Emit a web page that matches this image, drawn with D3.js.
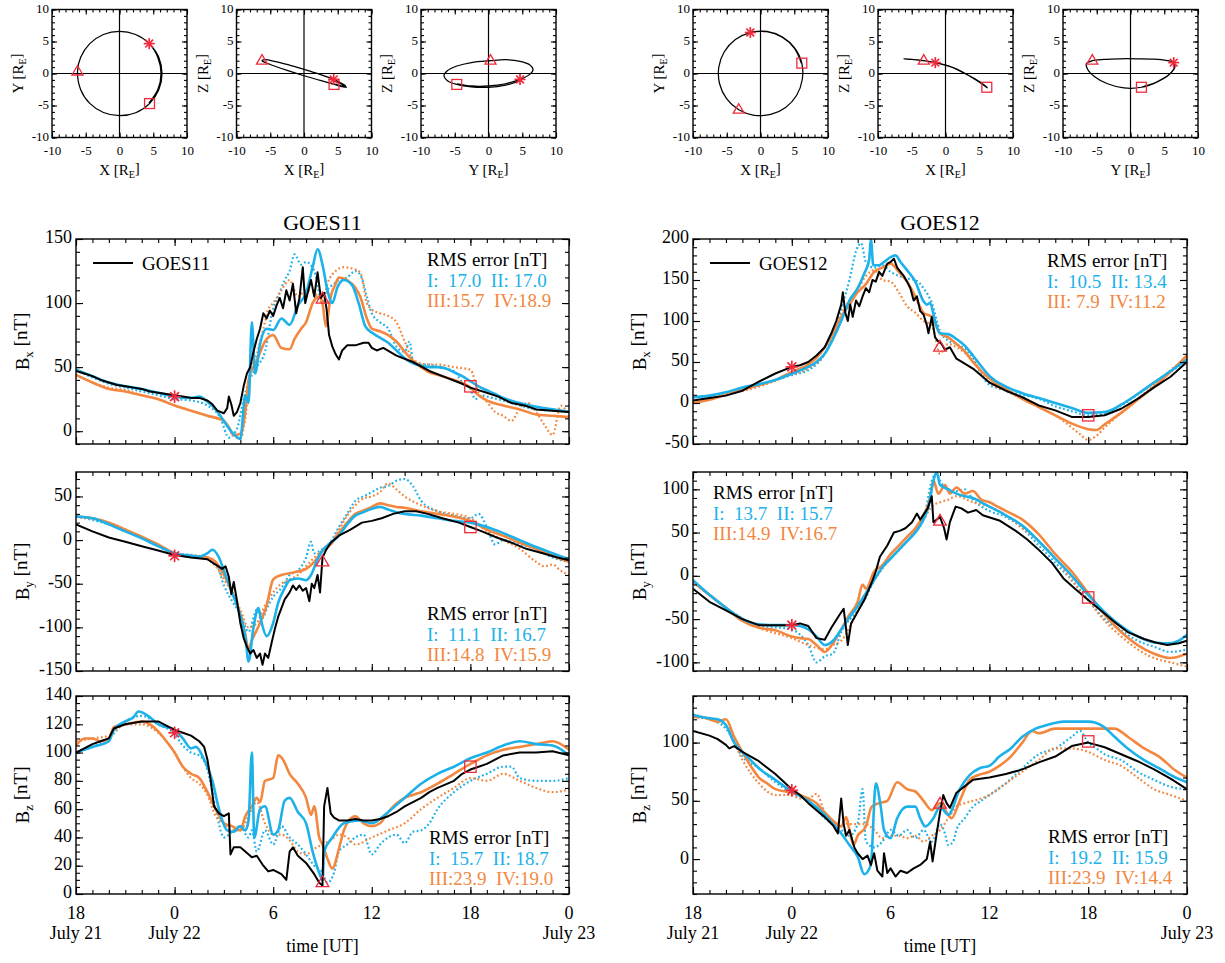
<!DOCTYPE html>
<html>
<head>
<meta charset="utf-8">
<script src="https://cdn.jsdelivr.net/npm/d3@7"></script>
<style>
  html, body { margin: 0; padding: 0; background: #fff; }
  svg { display: block; }
</style>
</head>
<body>
<svg id="chart" width="1225" height="963"></svg>
<script>
// ---------------------------------------------------------------
// Time axis: hours since 18 UT on July 21 (0 .. 30 h)
// ---------------------------------------------------------------
const hourTicks = [0, 6, 12, 18, 24, 30];
const hourLabels = ["18", "0", "6", "12", "18", "0"];
const dayLabels = ["July 21", "July 22", "", "", "", "July 23"];
const markerHours = [6, 15, 24];
const markerKinds = ["star", "triangle", "square"];

// ---------------------------------------------------------------
// Spacecraft positions [R_E], sampled every 1.5 h
// ---------------------------------------------------------------
const orbitHours = [0, 1.5, 3, 4.5, 6, 7.5, 9, 10.5, 12, 13.5, 15, 16.5, 18, 19.5, 21, 22.5, 24, 25.5, 27, 28.5, 30];
const g11OrbitX = [4.35, 5.68, 6.15, 5.68, 4.40, 2.38, 0.0, -2.38, -4.40, -5.75, -6.22, -5.75, -4.40, -2.38, 0.0, 2.40, 4.45, 5.82, 6.30, 5.82, 4.45];
const g11OrbitY = [-4.63, -2.51, 0.0, 2.51, 4.67, 6.10, 6.60, 6.10, 4.67, 2.53, 0.30, -2.53, -4.67, -6.10, -6.60, -6.13, -4.70, -2.55, 0.0, 2.55, 4.70];
const g11OrbitZ = [-1.60, -1.95, -1.95, -1.60, -0.92, -0.14, 0.65, 1.38, 1.91, 2.15, 2.00, 1.71, 1.17, 0.44, -0.35, -1.08, -1.71, -2.10, -2.15, -1.81, -1.17];
const g12OrbitX = [6.06, 5.03, 3.22, 0.93, -1.51, -3.72, -5.36, -6.18, -6.06, -5.03, -3.22, -0.93, 1.51, 3.72, 5.36, 6.18, 6.12, 5.08, 3.26, 0.95, -1.50];
const g12OrbitY = [1.60, 3.93, 5.66, 6.53, 6.40, 5.31, 3.40, 0.98, -1.60, -3.93, -5.66, -6.53, -6.40, -5.31, -3.40, -0.98, 1.62, 3.97, 5.70, 6.58, 6.45];
const g12OrbitZ = [-2.15, -1.30, -0.20, 1.00, 1.70, 2.05, 2.25, 2.30, 2.30, 2.20, 2.00, 1.55, 0.75, -0.50, -1.60, -2.25, -2.15, -1.30, -0.20, 1.00, 1.70];

// ---------------------------------------------------------------
// GOES11 magnetic field [nT]: observation and models I..IV, [hour, value]
// ---------------------------------------------------------------
const g11BxObs = [[0,47],[0.5,45],[1,43],[1.5,40],[2,38],[2.5,36],[3,35],[3.5,34],[4,33],[4.5,31],[5,30],[5.5,29],[6,28],[6.5,27],[7,26],[7.5,26],[8,24],[8.3,21],[8.6,16],[9,14],[9.2,18],[9.3,27],[9.45,21],[9.6,12],[9.8,15],[10,22],[10.2,35],[10.4,45],[10.6,50],[10.8,62],[11,72],[11.2,80],[11.4,92],[11.6,88],[11.8,94],[12,90],[12.2,98],[12.4,104],[12.6,96],[12.8,110],[13,102],[13.2,115],[13.4,92],[13.6,104],[13.8,128],[13.95,100],[14.1,108],[14.3,118],[14.5,105],[14.7,124],[14.9,104],[15.1,108],[15.25,95],[15.4,75],[15.6,66],[15.8,60],[16,56],[16.2,63],[16.5,67],[17,67],[17.5,69],[17.8,69],[18,65],[18.3,63],[18.7,65],[19.5,59],[20.5,54],[21.5,47],[22.5,42],[23.5,37],[24,34],[25,30],[25.7,27],[26.5,22],[27.3,20],[28,17],[29,16],[30,15]];
const g11BxI = [[0,48],[1,43],[2,38],[3,35],[4,33],[5,30],[6,27],[7,26],[7.5,27],[8,23],[8.5,17],[9,8],[9.5,-1],[10,-6],[10.3,28],[10.5,22],[10.7,85],[10.9,45],[11.2,68],[11.6,80],[12,79],[12.5,88],[13,83],[13.5,98],[14,108],[14.4,128],[14.7,142],[15,130],[15.3,110],[15.6,100],[15.9,112],[16.3,118],[16.8,114],[17.2,100],[17.6,82],[18,77],[18.5,73],[19,69],[19.5,63],[20,57],[20.5,53],[21,51],[21.5,50],[22,50],[22.5,49],[23,46],[23.5,43],[24,39],[24.5,35],[25,32],[25.5,29],[26,26],[27,22],[28,19],[29,17],[30,15]];
const g11BxII = [[0,48],[1,42],[2,37],[3,34],[4,31],[5,28],[6,25],[7,24],[8,20],[8.8,10],[9.3,-5],[9.8,2],[10.2,25],[10.5,38],[11,50],[11.5,62],[12,96],[12.3,105],[12.7,118],[13,125],[13.3,138],[13.7,130],[14,132],[14.5,125],[15,100],[15.3,110],[15.7,115],[16,118],[16.5,120],[17,125],[17.3,122],[17.7,105],[18,92],[18.5,85],[19,80],[19.5,66],[20,62],[20.3,70],[20.5,55],[21,52],[21.5,52],[22,50],[23,47],[23.5,38],[24,33],[24.3,25],[24.7,28],[25,27],[26,24],[27,20],[28,17],[29,16],[30,15]];
const g11BxIII = [[0,44],[1,38],[2,33],[3,31],[4,28],[5,25],[6,20],[7,16],[8,12],[9,8],[9.3,3],[9.6,-3],[10,-2],[10.3,15],[10.5,40],[11,55],[11.5,70],[12,75],[12.5,65],[13,64],[13.3,72],[13.7,80],[14,85],[14.4,100],[14.8,105],[15,100],[15.2,82],[15.5,105],[15.8,115],[16,120],[16.5,118],[17,112],[17.3,105],[17.7,88],[18,80],[18.5,78],[19,75],[19.5,70],[20,62],[20.5,55],[21,50],[21.5,46],[22,44],[23,40],[24,34],[24.5,28],[25,24],[26,20],[27,17],[28,13],[29,12],[30,11]];
const g11BxIV = [[0,44],[1,38],[2,34],[3,32],[4,28],[5,25],[6,20],[7,16],[8,12],[9,8],[9.5,-2],[10,-6],[10.3,10],[10.6,45],[11,60],[11.4,80],[11.7,95],[12,100],[12.5,110],[13,118],[13.5,105],[14,110],[14.5,108],[15,100],[15.3,115],[15.8,125],[16.3,128],[16.8,127],[17.3,124],[17.7,100],[18,95],[18.5,92],[19,90],[19.5,85],[20,70],[20.5,56],[21,53],[21.5,52],[22,52],[23,50],[24,48],[24.5,30],[25,23],[25.5,15],[26,12],[26.5,8],[27,18],[27.5,22],[28,15],[28.5,5],[29,-3],[29.5,20],[30,12]];

const g11ByObs = [[0,18],[1,10],[2,3],[3,-2],[4,-7],[5,-12],[6,-17],[7,-20],[8,-22],[8.4,-27],[8.9,-33],[9.1,-30],[9.3,-42],[9.45,-62],[9.6,-48],[9.8,-70],[10,-95],[10.2,-112],[10.4,-122],[10.6,-130],[10.8,-126],[11,-135],[11.2,-130],[11.35,-143],[11.5,-130],[11.7,-135],[11.9,-118],[12.1,-102],[12.3,-88],[12.5,-78],[12.7,-68],[13,-60],[13.2,-52],[13.4,-57],[13.6,-52],[13.8,-58],[14,-55],[14.2,-70],[14.35,-50],[14.5,-55],[14.7,-40],[14.85,-60],[15,-20],[15.2,-12],[15.5,-3],[16,5],[16.7,12],[17.4,20],[18,22],[18.6,25],[19.3,30],[20,33],[20.7,33],[21.4,30],[22.3,25],[23.3,20],[24,15],[24.7,10],[25.6,3],[26.5,-3],[27.4,-10],[28.4,-15],[29.3,-20],[30,-23]];
const g11ByI = [[0,27],[1,25],[2,18],[3,10],[4,2],[5,-7],[6,-15],[7,-18],[7.5,-19],[8,-15],[8.3,-11],[8.7,-20],[9,-35],[9.5,-60],[10,-87],[10.3,-110],[10.5,-139],[10.8,-100],[11.1,-78],[11.3,-95],[11.6,-110],[12,-95],[12.3,-72],[12.7,-55],[13,-46],[13.5,-44],[14,-46],[14.3,-40],[14.7,-22],[15,-12],[15.5,-3],[16,5],[16.5,18],[17,28],[17.5,32],[18,36],[18.5,38],[19,35],[19.5,32],[20,30],[21,28],[22,25],[23,22],[24,20],[25,15],[26,8],[27,0],[28,-8],[29,-15],[30,-22]];
const g11ByII = [[0,27],[2,18],[4,3],[6,-15],[7,-17],[8,-20],[8.5,-25],[9,-52],[9.5,-70],[10,-85],[10.5,-105],[11,-80],[11.3,-90],[11.7,-75],[12,-65],[12.5,-55],[13,-40],[13.5,-35],[14,-20],[14.3,-2],[14.5,-15],[15,-10],[15.5,-2],[16,15],[16.5,30],[17,45],[17.5,50],[18,55],[18.5,60],[19,62],[19.5,68],[20,70],[20.5,62],[21,45],[22,33],[23,28],[24,25],[24.5,30],[25,15],[25.5,-5],[26,0],[27,-5],[28,-10],[29,-20],[30,-25]];
const g11ByIII = [[0,27],[1,25],[2,20],[3,12],[4,4],[5,-5],[6,-15],[7,-18],[8,-20],[8.5,-25],[9,-40],[9.5,-60],[10,-85],[10.3,-108],[10.5,-125],[10.7,-115],[11.2,-95],[11.6,-75],[12,-45],[12.5,-40],[13,-38],[13.5,-36],[14,-33],[14.5,-25],[15,-12],[15.5,-5],[16,8],[16.5,20],[17,30],[17.5,34],[18,38],[18.5,42],[19,40],[19.5,38],[20,37],[21,33],[22,30],[23,27],[24,22],[25,12],[26,5],[27,-3],[28,-10],[29,-18],[30,-25]];
const g11ByIV = [[0,27],[2,20],[4,3],[6,-15],[8,-22],[8.5,-30],[9,-45],[9.5,-60],[10,-80],[10.5,-100],[11,-95],[11.5,-75],[12,-60],[12.5,-50],[13,-45],[13.5,-40],[14,-30],[14.5,-20],[15,-12],[15.5,-5],[16,12],[16.5,28],[17,40],[17.5,48],[18,50],[18.5,55],[19,65],[19.5,58],[20,50],[21,40],[22,33],[23,30],[24,25],[25,10],[26,0],[27,-10],[28,-25],[28.5,-30],[29,-28],[29.5,-35],[30,-40]];

const g11BzObs = [[0,100],[0.5,103],[1,106],[1.5,108],[2,110],[2.3,117],[3,120],[4,122],[5,122],[6,116],[6.5,114],[7,112],[7.5,108],[7.8,104],[8,95],[8.2,80],[8.4,62],[8.7,57],[9,55],[9.3,57],[9.4,28],[9.6,33],[10,33],[10.3,30],[10.7,26],[11,27],[11.4,20],[11.7,16],[12,17],[12.5,14],[12.8,10],[13,30],[13.2,33],[13.5,27],[14,22],[14.5,14],[14.8,8],[15,6],[15.1,62],[15.3,75],[15.5,57],[15.7,54],[16,52],[16.5,52],[17,53],[17.5,52],[18,52],[18.5,53],[19,55],[19.5,58],[20,62],[20.5,65],[21,68],[21.5,72],[22,75],[23,80],[23.5,85],[24,88],[24.5,90],[25,92],[26,98],[27,100],[28,100],[29,101],[30,98]];
const g11BzI = [[0,100],[1,104],[2,108],[2.3,116],[3,122],[3.5,125],[3.8,129],[4.5,125],[5,120],[6,116],[6.5,110],[7,103],[7.3,104],[7.8,95],[8.3,80],[8.7,60],[9.2,45],[9.6,44],[10,48],[10.3,45],[10.5,52],[10.7,100],[10.85,40],[11.2,60],[11.5,62],[12,42],[12.3,45],[12.7,66],[13,68],[13.5,58],[14,50],[14.4,30],[14.8,15],[15,10],[15.1,30],[15.6,40],[16.3,50],[17.2,52],[18,50],[19,58],[20,68],[21,78],[22,85],[23,90],[24,96],[25,100],[26,105],[27,108],[28,106],[29,105],[30,98]];
const g11BzII = [[0,100],[1,104],[2,110],[3,122],[4,126],[5,120],[6,113],[6.5,105],[7,100],[7.5,98],[8,88],[8.5,60],[9,40],[9.5,44],[10,48],[10.5,40],[10.7,45],[11,30],[11.5,45],[12,35],[12.5,48],[13,40],[13.5,35],[14,28],[14.5,20],[15,15],[15.3,8],[15.7,15],[16,30],[16.5,35],[17,40],[17.5,42],[18,28],[18.5,35],[19,40],[19.5,42],[20,36],[20.5,44],[21,45],[21.5,50],[22,60],[23,72],[24,80],[25,85],[26,90],[26.5,90],[27,82],[28,80],[29,80],[30,82]];
const g11BzIII = [[0,105],[0.5,110],[1,110],[1.5,108],[2,110],[2.3,118],[3,120],[4,122],[4.5,120],[5,115],[5.5,108],[6,100],[6.5,90],[7,85],[7.5,82],[8,72],[8.5,60],[9,50],[9.5,48],[10,45],[10.3,55],[10.7,62],[11,68],[11.2,65],[11.5,80],[12,82],[12.3,98],[12.6,95],[13,85],[13.5,78],[14,68],[14.3,56],[14.5,62],[14.8,40],[15,35],[15.3,25],[15.6,18],[16,32],[16.3,45],[16.6,52],[17,55],[17.5,50],[18,48],[18.5,50],[19,58],[20,68],[20.5,70],[21,72],[22,78],[23,85],[24,92],[24.5,95],[25,98],[26,102],[27,104],[28,106],[29,108],[30,102]];
const g11BzIV = [[0,108],[1,110],[2,112],[3,120],[4,120],[5,114],[6,100],[6.5,90],[7,82],[7.5,78],[8,70],[8.5,55],[9,50],[9.5,45],[10,45],[10.5,55],[11,65],[11.5,50],[12,42],[12.5,42],[13,38],[13.5,30],[14,28],[14.5,32],[15,35],[15.5,38],[16,42],[16.5,40],[17,35],[18,40],[19,45],[20,50],[21,60],[22,68],[23,75],[24,82],[25,80],[26,85],[27,80],[28,75],[29,72],[30,74]];

// ---------------------------------------------------------------
// GOES12 magnetic field [nT]
// ---------------------------------------------------------------
const g12BxObs = [[0,3],[1,6],[2,9],[3,15],[4,26],[5,36],[6,44],[6.5,46],[7,50],[7.5,58],[8,68],[8.4,85],[8.7,100],[9,120],[9.1,135],[9.25,110],[9.4,100],[9.55,120],[9.7,105],[9.9,125],[10.1,118],[10.3,130],[10.5,140],[10.7,135],[10.9,150],[11.1,148],[11.3,160],[11.5,155],[11.8,170],[12,172],[12.2,176],[12.4,165],[12.6,160],[12.8,155],[13,148],[13.2,140],[13.4,125],[13.6,130],[13.8,112],[14,108],[14.2,95],[14.3,85],[14.5,105],[14.7,80],[14.9,75],[15.1,72],[15.3,65],[15.6,68],[16,54],[17,42],[18,25],[19,15],[20,7],[21,-3],[22,-9],[23,-17],[24,-17],[25,-15],[26,-7],[27,5],[28,19],[29,32],[30,50]];
const g12BxI = [[0,7],[1,9],[2,13],[3,19],[4,23],[5,28],[6,36],[7,44],[7.5,50],[8,60],[8.5,78],[9,100],[9.5,125],[10,140],[10.4,158],[10.7,175],[10.8,200],[10.95,168],[11.3,168],[11.6,172],[12,178],[12.3,180],[12.6,172],[13,162],[13.5,148],[14,124],[14.2,120],[14.4,122],[14.7,100],[15,85],[15.5,84],[16,78],[16.5,70],[17,58],[17.5,45],[18,33],[19,20],[20,12],[21,6],[22,0],[23,-6],[24,-12],[25,-11],[26,-2],[27,11],[28,25],[29,39],[30,53]];
const g12BxII = [[0,7],[2,12],[4,22],[6,34],[7,40],[8,60],[8.5,82],[9,115],[9.5,150],[9.9,185],[10.2,195],[10.5,172],[11,165],[11.5,168],[12,160],[12.5,155],[13,152],[13.5,150],[14,140],[14.5,122],[15,88],[15.5,76],[16,72],[17,55],[17.5,35],[18,22],[18.5,18],[19,15],[20,10],[21,5],[22,-4],[23,-10],[24,-15],[25,-12],[26,-3],[27,10],[28,25],[29,38],[30,52]];
const g12BxIII = [[0,0],[1,4],[2,10],[3,16],[4,22],[5,28],[6,38],[7,47],[7.5,55],[8,68],[8.5,85],[9,105],[9.5,120],[10,135],[10.5,145],[11,160],[11.5,165],[12,170],[12.5,160],[13,148],[13.5,130],[14,110],[14.5,105],[15,85],[15.5,80],[16,72],[16.5,63],[17,50],[18,30],[19,17],[20,5],[21,-5],[22,-15],[23,-25],[24,-32],[24.5,-33],[25,-26],[26,-12],[27,4],[28,20],[29,38],[30,58]];
const g12BxIV = [[0,0],[2,10],[4,20],[6,35],[7,42],[8,60],[8.5,80],[9,108],[9.5,125],[10,138],[10.5,155],[11,162],[11.5,150],[12,148],[12.5,135],[13,118],[13.5,110],[14,100],[14.5,95],[15,60],[15.5,72],[16,68],[17,52],[18,25],[19,15],[20,5],[21,-5],[22,-15],[23,-30],[23.5,-38],[24,-45],[24.5,-40],[25,-30],[26,-12],[27,5],[28,22],[29,40],[30,56]];

const g12ByObs = [[0,-15],[1,-30],[2,-40],[3,-50],[4,-57],[5,-57],[6,-57],[6.5,-55],[7,-58],[7.5,-72],[8,-74],[8.4,-60],[8.9,-45],[9.15,-38],[9.3,-62],[9.4,-80],[9.6,-55],[9.9,-45],[10.4,-28],[10.85,-8],[11.1,5],[11.35,22],[11.8,35],[12.2,50],[12.55,52],[12.9,55],[13.3,62],[13.6,72],[13.8,65],[14.25,78],[14.5,92],[14.6,62],[15,68],[15.25,55],[15.4,42],[15.6,62],[15.95,80],[16.3,78],[16.7,73],[17.2,76],[17.6,70],[18.6,64],[19.6,52],[20.3,42],[21,30],[21.8,15],[22.5,-3],[23.2,-15],[24,-28],[24.9,-42],[25.7,-55],[26.4,-65],[27.4,-73],[28.1,-77],[28.8,-80],[29.5,-78],[30,-75]];
const g12ByI = [[0,-5],[1,-22],[2,-37],[3,-50],[4,-56],[5,-57],[6,-57],[6.5,-58],[7,-62],[7.5,-70],[8,-80],[8.5,-75],[9,-62],[9.5,-48],[10,-35],[10.5,-20],[11,-5],[11.5,10],[12,20],[12.5,30],[13,40],[13.5,50],[14,65],[14.3,80],[14.6,110],[14.8,120],[15,105],[15.5,100],[16,95],[16.5,92],[17,90],[17.5,85],[18,80],[19,70],[20,58],[21,40],[22,20],[23,0],[24,-22],[25,-42],[26,-58],[27,-70],[28,-77],[29,-78],[29.5,-75],[30,-68]];
const g12ByII = [[0,-5],[2,-37],[4,-57],[6,-62],[6.5,-68],[7,-80],[7.5,-100],[8,-93],[8.5,-90],[9,-65],[10,-40],[10.5,-25],[11,-5],[11.5,12],[12,20],[13,40],[13.5,52],[14,65],[14.5,110],[14.8,118],[15,110],[15.5,100],[16,98],[16.5,100],[17,88],[18,75],[19,68],[20,55],[21,35],[22,15],[23,-5],[24,-28],[25,-50],[26,-63],[27,-75],[28,-82],[29,-88],[30,-85]];
const g12ByIII = [[0,-7],[1,-22],[2,-37],[3,-52],[4,-60],[5,-63],[6,-70],[6.5,-72],[7,-73],[7.5,-80],[8,-88],[8.5,-78],[9,-62],[9.5,-45],[10,-30],[10.3,-10],[10.5,-15],[11,5],[11.5,12],[12,25],[12.5,35],[13,45],[13.5,55],[14,70],[14.4,90],[14.6,110],[14.9,95],[15.3,105],[15.6,95],[16,102],[16.5,95],[17,98],[17.5,88],[18,85],[18.5,80],[19,75],[20,65],[21,48],[22,25],[23,5],[24,-20],[25,-45],[26,-65],[27,-80],[28,-90],[29,-95],[30,-90]];
const g12ByIV = [[0,-7],[2,-37],[4,-60],[6,-72],[7,-80],[8,-85],[8.5,-80],[9,-75],[10,-40],[10.5,-20],[11,-5],[12,20],[13,40],[14,65],[14.5,80],[15,85],[15.5,88],[16,92],[17,85],[18,80],[19,70],[20,55],[21,40],[22,20],[23,-5],[24,-28],[25,-52],[26,-70],[27,-85],[28,-95],[29,-100],[30,-105]];

const g12BzObs = [[0,110],[1,106],[1.5,103],[2,98],[2.2,95],[2.5,97],[3,92],[4,84],[5,73],[6,60],[6.5,55],[7,48],[7.5,42],[8,36],[8.5,29],[8.8,22],[9,52],[9.15,30],[9.3,20],[9.5,25],[9.8,10],[10,5],[10.3,0],[10.6,3],[10.8,-5],[11,5],[11.2,-10],[11.5,-15],[11.6,5],[11.8,-12],[12,-8],[12.3,-15],[12.6,-10],[13,-12],[13.4,-8],[13.8,-5],[14.2,0],[14.4,15],[14.55,-2],[14.8,22],[15,40],[15.2,55],[15.4,48],[15.6,44],[16,57],[17,68],[18,70],[19,73],[20,77],[21,83],[22,88],[23,97],[24,100],[25,96],[26,90],[27,84],[28,77],[29,69],[30,60]];
const g12BzI = [[0,124],[0.5,122],[1,121],[1.5,120],[2,115],[2.5,100],[3,92],[3.5,85],[4,78],[5,68],[6,58],[7,50],[8,38],[8.5,30],[9,22],[9.5,12],[10,2],[10.4,-13],[10.8,-5],[11.1,65],[11.4,45],[11.6,25],[12,18],[12.4,35],[13,45],[13.5,45],[13.8,35],[14.1,28],[14.6,35],[15,45],[15.5,38],[16.2,60],[16.8,72],[17.4,78],[18,80],[18.6,88],[19.3,95],[20,105],[20.8,112],[21.5,115],[22.5,118],[24,118],[24.9,114],[25.6,105],[26.4,95],[27.4,85],[28.3,78],[29.3,70],[30,66]];
const g12BzII = [[0,124],[1,120],[2,112],[3,88],[4,78],[5,66],[6,57],[7,50],[8,35],[9,25],[9.5,20],[10,30],[10.3,60],[10.5,15],[11,10],[11.5,15],[12,25],[12.5,20],[13,25],[13.5,18],[14,25],[14.5,15],[15,30],[15.3,22],[15.5,12],[15.8,15],[16,25],[16.5,35],[17,45],[17.5,50],[18,55],[19,65],[20,78],[21,90],[22,95],[23,105],[23.5,110],[24,100],[24.5,95],[25,90],[26,85],[27,75],[28,68],[29,62],[30,60]];
const g12BzIII = [[0,122],[0.5,122],[1,120],[1.5,118],[2,120],[2.5,105],[3,92],[3.5,80],[4,70],[4.5,65],[5,60],[6,57],[6.5,55],[7,52],[7.5,48],[8,40],[8.5,33],[9,28],[9.3,36],[9.5,25],[9.75,12],[10,20],[10.5,28],[10.85,45],[11.3,48],[11.8,50],[12.4,66],[13,60],[13.5,58],[14,50],[14.5,42],[15,48],[15.5,38],[15.7,35],[16.2,50],[16.8,68],[17.3,72],[18,75],[18.6,80],[19.3,88],[20,100],[20.6,110],[21,108],[22,112],[23,112],[24,112],[24.9,112],[25.6,112],[26.4,105],[27.4,95],[28.3,88],[29.3,76],[30,70]];
const g12BzIV = [[0,122],[1,120],[2,115],[3,85],[4,65],[5,55],[6,55],[6.5,52],[7,52],[7.5,56],[8,40],[8.5,30],[9,32],[9.5,30],[10,30],[10.5,30],[11,25],[11.5,18],[12,20],[12.5,20],[13,18],[13.5,20],[14,15],[14.5,20],[15,25],[15.5,35],[16,45],[16.5,48],[17,50],[17.5,52],[18,55],[19,65],[20,75],[21,85],[22,95],[23,95],[24,92],[25,85],[26,80],[27,70],[28,60],[29,55],[30,50]];

// Observed values at the three marked times
const g11BxMarks = [27, 103, 35];
const g11ByMarks = [-18, -25, 15];
const g11BzMarks = [114, 8, 90];
const g12BxMarks = [44, 68, -15];
const g12ByMarks = [-57, 63, -25];
const g12BzMarks = [59, 47, 101];

// RMS errors of models I, II, III, IV [nT]
const g11RmsBx = [17.0, 17.0, 15.7, 18.9];
const g11RmsBy = [11.1, 16.7, 14.8, 15.9];
const g11RmsBz = [15.7, 18.7, 23.9, 19.0];
const g12RmsBx = [10.5, 13.4, 7.9, 11.2];
const g12RmsBy = [13.7, 15.7, 14.9, 16.7];
const g12RmsBz = [19.2, 15.9, 23.9, 14.4];

// ---------------------------------------------------------------
// Drawing
// ---------------------------------------------------------------
const FONT = '"Liberation Serif", "Times New Roman", serif';
const BLUE = "#1db1e9";
const ORANGE = "#f3873f";
const RED = "#ee2a3c";
const svg = d3.select("#chart").attr("font-family", FONT);

function styleAxis(sel, size) {
  sel.attr("font-family", FONT).attr("font-size", size);
  sel.select(".domain").remove();
  sel.selectAll(".tick line").attr("stroke", "#000").attr("stroke-width", 1.1);
  sel.selectAll(".tick text").attr("fill", "#000");
}

function drawFrame(g, x, y, w, h, c) {
  const add = (axis, tr) => {
    const a = g.append("g").call(axis);
    if (tr) a.attr("transform", tr);
    styleAxis(a, c.labelSize);
    return a;
  };
  const fmt = d => String(d);
  add(d3.axisBottom(x).tickValues(c.xMinor).tickSize(-c.minorLen).tickFormat(""), `translate(0,${h})`);
  add(d3.axisBottom(x).tickValues(c.xMajor).tickSize(-c.majorLen).tickPadding(c.xPad || c.pad)
      .tickFormat(c.xLabels ? fmt : ""), `translate(0,${h})`);
  add(d3.axisTop(x).tickValues(c.xMinor).tickSize(-c.minorLen).tickFormat(""));
  add(d3.axisTop(x).tickValues(c.xMajor).tickSize(-c.majorLen).tickFormat(""));
  add(d3.axisLeft(y).tickValues(c.yMinor).tickSize(-c.minorLen).tickFormat(""));
  const left = add(d3.axisLeft(y).tickValues(c.yMajor).tickSize(-c.majorLen).tickPadding(c.pad).tickFormat(fmt));
  if (c.yDy) left.selectAll(".tick text").attr("dy", c.yDy);
  add(d3.axisRight(y).tickValues(c.yMinor).tickSize(-c.minorLen).tickFormat(""), `translate(${w},0)`);
  add(d3.axisRight(y).tickValues(c.yMajor).tickSize(-c.majorLen).tickFormat(""), `translate(${w},0)`);
  g.append("rect").attr("width", w).attr("height", h)
    .attr("fill", "none").attr("stroke", "#000").attr("stroke-width", 1.4);
}

function drawMarker(g, kind, cx, cy, s) {
  const m = g.append("g").attr("fill", "none").attr("stroke", RED);
  if (kind === "star") {
    [0, 45, 90, 135].forEach(a => {
      const r = a * Math.PI / 180;
      m.append("line")
        .attr("x1", cx - s * Math.cos(r)).attr("y1", cy - s * Math.sin(r))
        .attr("x2", cx + s * Math.cos(r)).attr("y2", cy + s * Math.sin(r))
        .attr("stroke-width", 1.7);
    });
  } else if (kind === "triangle") {
    m.append("path")
      .attr("d", `M${cx},${cy - s * 1.1}L${cx - s},${cy + s * 0.62}L${cx + s},${cy + s * 0.62}Z`)
      .attr("stroke-width", 1.3);
  } else {
    m.append("rect").attr("x", cx - s * 0.9).attr("y", cy - s * 0.9)
      .attr("width", s * 1.8).attr("height", s * 1.8).attr("stroke-width", 1.3);
  }
}

function labelWithSub(sel, main, sub, rest, subSize) {
  sel.append("tspan").text(main);
  sel.append("tspan").attr("font-size", subSize).attr("dy", "0.32em").text(sub);
  sel.append("tspan").attr("dy", "-0.32em").text(rest);
}

let clipId = 0;

// ---------------- orbit panels ----------------
function drawOrbit(px, py, w, h, hs, vs, hName, vName) {
  const g = svg.append("g").attr("transform", `translate(${px},${py})`);
  const x = d3.scaleLinear().domain([-10, 10]).range([0, w]);
  const y = d3.scaleLinear().domain([-10, 10]).range([h, 0]);
  const pts = hs.map((v, i) => [v, vs[i]]);
  g.append("line").attr("x1", x(0)).attr("x2", x(0)).attr("y1", 0).attr("y2", h)
    .attr("stroke", "#000").attr("stroke-width", 1.2);
  g.append("line").attr("x1", 0).attr("x2", w).attr("y1", y(0)).attr("y2", y(0))
    .attr("stroke", "#000").attr("stroke-width", 1.2);
  g.append("path").datum(pts)
    .attr("d", d3.line().x(d => x(d[0])).y(d => y(d[1])).curve(d3.curveCatmullRom))
    .attr("fill", "none").attr("stroke", "#000").attr("stroke-width", 1.25);
  markerHours.forEach((t, k) => {
    const i = orbitHours.indexOf(t);
    drawMarker(g, markerKinds[k], x(hs[i]), y(vs[i]), 5.5);
  });
  drawFrame(g, x, y, w, h, {
    xMajor: [-10, -5, 0, 5, 10], xMinor: d3.range(-10, 11, 1),
    yMajor: [-10, -5, 0, 5, 10], yMinor: d3.range(-10, 11, 1),
    majorLen: 5, minorLen: 3, pad: 3, xPad: 8.5, yDy: "0.22em", labelSize: 13, xLabels: true
  });
  const xl = g.append("text").attr("x", w / 2).attr("y", h + 37)
    .attr("text-anchor", "middle").attr("font-size", 15);
  labelWithSub(xl, hName + " [R", "E", "]", 10);
  const yl = g.append("text").attr("transform", `translate(-29,${h / 2}) rotate(-90)`)
    .attr("text-anchor", "middle").attr("font-size", 15);
  labelWithSub(yl, vName + " [R", "E", "]", 10);
}

const orbitTop = 9.5, orbitW = 135, orbitH = 128;
const orbitSets = [
  { X: g11OrbitX, Y: g11OrbitY, Z: g11OrbitZ, x0: [52, 236.5, 421] },
  { X: g12OrbitX, Y: g12OrbitY, Z: g12OrbitZ, x0: [693, 878, 1063] }
];
orbitSets.forEach(o => {
  drawOrbit(o.x0[0], orbitTop, orbitW, orbitH, o.X, o.Y, "X", "Y");
  drawOrbit(o.x0[1], orbitTop, orbitW, orbitH, o.X, o.Z, "X", "Z");
  drawOrbit(o.x0[2], orbitTop, orbitW, orbitH, o.Y, o.Z, "Y", "Z");
});

// ---------------- field panels ----------------
function rmsLines(v) {
  const f = n => n.toFixed(1).padStart(4, " ");
  return [
    { t: "RMS error [nT]", c: "#000" },
    { t: `I:  ${f(v[0])}  II: ${f(v[1])}`, c: BLUE },
    { t: `III:${f(v[2])}  IV:${f(v[3])}`, c: ORANGE }
  ];
}

function drawField(p) {
  const w = p.x1 - p.x0, h = p.y1 - p.y0;
  const g = svg.append("g").attr("transform", `translate(${p.x0},${p.y0})`);
  const x = d3.scaleLinear().domain([0, 30]).range([0, w]);
  const y = d3.scaleLinear().domain(p.domain).range([h, 0]);
  const id = "clip" + (clipId++);
  g.append("clipPath").attr("id", id).append("rect").attr("width", w).attr("height", h);
  const plot = g.append("g").attr("clip-path", `url(#${id})`);
  const smooth = d3.line().x(d => x(d[0])).y(d => y(d[1])).curve(d3.curveMonotoneX);
  const raw = d3.line().x(d => x(d[0])).y(d => y(d[1]));
  const dotted = (data, col) => plot.append("path").datum(data).attr("d", smooth)
    .attr("fill", "none").attr("stroke", col).attr("stroke-width", 2.2)
    .attr("stroke-dasharray", "1.8,2.4");
  const solid = (data, col, sw, gen) => plot.append("path").datum(data).attr("d", gen)
    .attr("fill", "none").attr("stroke", col).attr("stroke-width", sw)
    .attr("stroke-linejoin", "round");
  dotted(p.II, BLUE);
  dotted(p.IV, ORANGE);
  solid(p.III, ORANGE, 2.6, smooth);
  solid(p.I, BLUE, 2.6, smooth);
  solid(p.obs, "#000", 2.0, raw);

  markerHours.forEach((t, k) => drawMarker(g, markerKinds[k], x(t), y(p.marks[k]), 6.3));

  const [lo, hi] = p.domain;
  drawFrame(g, x, y, w, h, {
    xMajor: hourTicks, xMinor: d3.range(0, 31, 1),
    yMajor: d3.range(Math.ceil(lo / p.major) * p.major, hi + 1e-9, p.major),
    yMinor: d3.range(Math.ceil(lo / p.minor) * p.minor, hi + 1e-9, p.minor),
    majorLen: 7, minorLen: 4, pad: 4, yDy: "0.22em", labelSize: 18, xLabels: false
  });

  // y-axis title
  const yt = g.append("text").attr("transform", `translate(-47,${h / 2}) rotate(-90)`)
    .attr("text-anchor", "middle").attr("font-size", 19);
  labelWithSub(yt, "B", p.comp, " [nT]", 13);

  // RMS error block: one text, one line per tspan
  const rx = p.rmsX - p.x0;
  const rt = g.append("text").attr("x", rx).attr("y", p.rmsY - p.y0)
    .attr("font-size", 19).attr("xml:space", "preserve").style("white-space", "pre");
  rmsLines(p.rms).forEach((ln, i) => {
    rt.append("tspan").attr("x", rx).attr("dy", i === 0 ? 0 : 20.5)
      .attr("fill", ln.c).text(ln.t);
  });

  if (p.title) {
    g.append("text").attr("x", w / 2).attr("y", -9).attr("text-anchor", "middle")
      .attr("font-size", 22).text(p.title);
    // legend for the observation
    g.append("line").attr("x1", 17).attr("x2", 57).attr("y1", 24).attr("y2", 24)
      .attr("stroke", "#000").attr("stroke-width", 2.2);
    g.append("text").attr("x", 66).attr("y", 30.5).attr("font-size", 19).text(p.title);
  }

  if (p.timeLabels) {
    hourTicks.forEach((t, i) => {
      g.append("text").attr("x", x(t)).attr("y", h + 24.5)
        .attr("text-anchor", "middle").attr("font-size", 18).text(hourLabels[i]);
      if (dayLabels[i]) {
        g.append("text").attr("x", x(t)).attr("y", h + 44.5)
          .attr("text-anchor", "middle").attr("font-size", 18).text(dayLabels[i]);
      }
    });
    g.append("text").attr("x", w / 2).attr("y", h + 58).attr("text-anchor", "middle")
      .attr("font-size", 18).text("time [UT]");
  }
}

const rowsY = [[239, 444], [472, 671], [696, 894]];
const comps = ["x", "y", "z"];

const g11 = {
  title: "GOES11", x0: 76, x1: 569,
  obs: [g11BxObs, g11ByObs, g11BzObs], I: [g11BxI, g11ByI, g11BzI], II: [g11BxII, g11ByII, g11BzII],
  III: [g11BxIII, g11ByIII, g11BzIII], IV: [g11BxIV, g11ByIV, g11BzIV],
  marks: [g11BxMarks, g11ByMarks, g11BzMarks], rms: [g11RmsBx, g11RmsBy, g11RmsBz],
  domains: [[-10, 150], [-150, 78], [0, 140]], steps: [[50, 10], [50, 10], [20, 5]],
  rmsPos: [[427, 266], [427, 620], [429, 844]]
};
const g12 = {
  title: "GOES12", x0: 693, x1: 1187,
  obs: [g12BxObs, g12ByObs, g12BzObs], I: [g12BxI, g12ByI, g12BzI], II: [g12BxII, g12ByII, g12BzII],
  III: [g12BxIII, g12ByIII, g12BzIII], IV: [g12BxIV, g12ByIV, g12BzIV],
  marks: [g12BxMarks, g12ByMarks, g12BzMarks], rms: [g12RmsBx, g12RmsBy, g12RmsBz],
  domains: [[-50, 200], [-110, 120], [-30, 140]], steps: [[50, 10], [50, 10], [50, 10]],
  rmsPos: [[1047, 267], [713, 499], [1048, 843]]
};

[g11, g12].forEach(s => {
  comps.forEach((c, i) => {
    drawField({
      title: i === 0 ? s.title : null, comp: c,
      x0: s.x0, x1: s.x1, y0: rowsY[i][0], y1: rowsY[i][1],
      domain: s.domains[i], major: s.steps[i][0], minor: s.steps[i][1],
      obs: s.obs[i], I: s.I[i], II: s.II[i], III: s.III[i], IV: s.IV[i],
      marks: s.marks[i], rms: s.rms[i],
      rmsX: s.rmsPos[i][0], rmsY: s.rmsPos[i][1],
      timeLabels: i === 2
    });
  });
});
</script>
</body>
</html>
